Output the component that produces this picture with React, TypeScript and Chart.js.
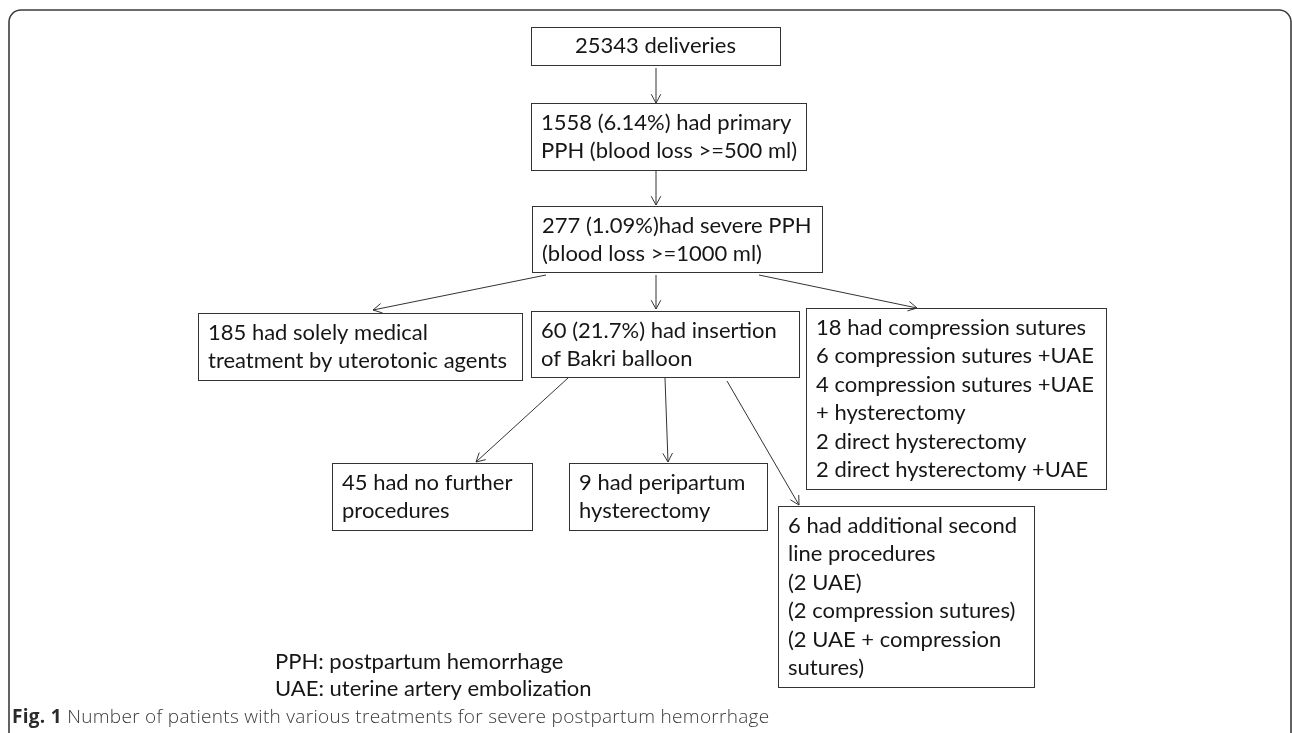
import { useEffect, useRef } from "react";
import { Chart, registerables } from "chart.js";

Chart.register(...registerables);

const W = 1292;
const H = 733;

// ---- flowchart content (the "data") ----
const nodeLines: string[][] = [
  ["25343 deliveries"],
  ["1558 (6.14%) had primary", "PPH (blood loss >=500 ml)"],
  ["277 (1.09%)had severe PPH", "(blood loss >=1000 ml)"],
  ["185 had solely medical", "treatment by uterotonic agents"],
  ["60 (21.7%) had insertion", "of Bakri balloon"],
  [
    "18 had compression sutures",
    "6 compression sutures +UAE",
    "4 compression sutures +UAE",
    "+ hysterectomy",
    "2 direct hysterectomy",
    "2 direct hysterectomy +UAE",
  ],
  ["45 had no further", "procedures"],
  ["9 had peripartum", "hysterectomy"],
  [
    "6 had additional second",
    "line procedures",
    "(2 UAE)",
    "(2 compression sutures)",
    "(2 UAE + compression",
    "sutures)",
  ],
];
const legendLines: string[] = ["PPH: postpartum hemorrhage", "UAE: uterine artery embolization"];
const captionLabel = "Fig. 1";
const captionText = "Number of patients with various treatments for severe postpartum hemorrhage";

// ---- layout (in data units of the hidden linear scales) ----
const nodeBoxes: number[][] = [
  [531, 27, 780, 65],
  [531, 103, 806, 170],
  [532, 206, 822, 272],
  [198, 313, 522, 380],
  [531, 311, 799, 377],
  [806, 308, 1106, 489],
  [332, 463, 532, 530],
  [569, 463, 767, 530],
  [778, 506, 1034, 687],
];
const nodeCentered: boolean[] = [true, false, false, false, false, false, false, false, false];
const arrowLines: number[][] = [
  [656, 68, 656, 103],
  [656, 171, 656, 205],
  [546, 275, 373, 310],
  [656, 275, 656, 309],
  [759, 275, 917, 308],
  [568, 378, 476, 462],
  [665, 378, 668, 462],
  [727, 381, 799, 505],
];

const BOX_FONT = "22px Lato";
const LINE_H = 28.4;
const TEXT_PAD_X = 10;
const TEXT_FIRST = 20;

const flowPlugin = {
  id: "flow",
  afterDraw(chart: any) {
    const { ctx } = chart;
    const xs = chart.scales.x;
    const ys = chart.scales.y;
    const px = (v: number) => xs.getPixelForValue(v);
    const py = (v: number) => ys.getPixelForValue(v);
    ctx.save();

    // outer frame
    ctx.strokeStyle = "#3c3c3c";
    ctx.lineWidth = 1.6;
    ctx.beginPath();
    const fx0 = px(9), fy0 = py(10), fx1 = px(1291), fy1 = py(745);
    const r = 12;
    ctx.moveTo(fx0 + r, fy0);
    ctx.lineTo(fx1 - r, fy0);
    ctx.arcTo(fx1, fy0, fx1, fy0 + r, r);
    ctx.lineTo(fx1, fy1 - r);
    ctx.arcTo(fx1, fy1, fx1 - r, fy1, r);
    ctx.lineTo(fx0 + r, fy1);
    ctx.arcTo(fx0, fy1, fx0, fy1 - r, r);
    ctx.lineTo(fx0, fy0 + r);
    ctx.arcTo(fx0, fy0, fx0 + r, fy0, r);
    ctx.stroke();

    // boxes
    ctx.lineWidth = 1;
    ctx.strokeStyle = "#333";
    ctx.fillStyle = "#161616";
    ctx.font = BOX_FONT;
    ctx.textBaseline = "middle";
    nodeBoxes.forEach((b, i) => {
      const x0 = Math.round(px(b[0])) + 0.5;
      const y0 = Math.round(py(b[1])) + 0.5;
      const x1 = Math.round(px(b[2])) + 0.5;
      const y1 = Math.round(py(b[3])) + 0.5;
      ctx.strokeRect(x0, y0, x1 - x0, y1 - y0);
      const lines = nodeLines[i];
      lines.forEach((t, k) => {
        const ty = py(b[1]) + (nodeCentered[i] ? (b[3] - b[1]) / 2 : TEXT_FIRST + k * LINE_H);
        if (nodeCentered[i]) {
          ctx.textAlign = "center";
          ctx.fillText(t, (px(b[0]) + px(b[2])) / 2, ty);
        } else {
          ctx.textAlign = "left";
          ctx.fillText(t, px(b[0]) + TEXT_PAD_X, ty);
        }
      });
    });

    // arrows
    ctx.strokeStyle = "#333";
    ctx.lineWidth = 1;
    arrowLines.forEach((a) => {
      const x0 = px(a[0]), y0 = py(a[1]), x1 = px(a[2]), y1 = py(a[3]);
      ctx.beginPath();
      ctx.moveTo(x0, y0);
      ctx.lineTo(x1, y1);
      const ang = Math.atan2(y1 - y0, x1 - x0);
      const L = 10, spread = 0.5;
      ctx.moveTo(x1 - L * Math.cos(ang - spread), y1 - L * Math.sin(ang - spread));
      ctx.lineTo(x1, y1);
      ctx.lineTo(x1 - L * Math.cos(ang + spread), y1 - L * Math.sin(ang + spread));
      ctx.stroke();
    });

    // legend notes
    ctx.textAlign = "left";
    ctx.fillStyle = "#161616";
    ctx.font = "22px Lato";
    legendLines.forEach((t, k) => {
      ctx.fillText(t, px(275), py(662) + k * 27);
    });

    // caption
    const cx = px(12), cy = py(718);
    try { ctx.letterSpacing = "0.3px"; } catch (e) {}
    ctx.font = "bold 19px 'Open Sans'";
    ctx.fillStyle = "#2a2a2a";
    ctx.fillText(captionLabel, cx, cy);
    const wl = ctx.measureText(captionLabel + " ").width;
    ctx.font = "300 19px 'Open Sans'";
    ctx.fillStyle = "#3a3a3a";
    ctx.fillText(captionText, cx + wl, cy);
    try { ctx.letterSpacing = "0px"; } catch (e) {}

    ctx.restore();
  },
};

export default function App() {
  const ref = useRef<HTMLCanvasElement | null>(null);
  useEffect(() => {
    document.body.style.margin = "0";
    const canvas = ref.current!;
    const chart = new Chart(canvas, {
      type: "scatter",
      data: { datasets: [{ data: [], pointRadius: 0 }] },
      options: {
        animation: false,
        responsive: false,
        devicePixelRatio: 1,
        layout: { padding: 0 },
        plugins: { legend: { display: false }, tooltip: { enabled: false } },
        scales: {
          x: { type: "linear", min: 0, max: W, display: false },
          y: { type: "linear", min: 0, max: H, reverse: true, display: false },
        },
      },
      plugins: [flowPlugin],
    });
    return () => chart.destroy();
  }, []);
  return (
    <div style={{ width: W, height: H, background: "#fff" }}>
      <canvas ref={ref} width={W} height={H} style={{ display: "block" }} />
    </div>
  );
}
